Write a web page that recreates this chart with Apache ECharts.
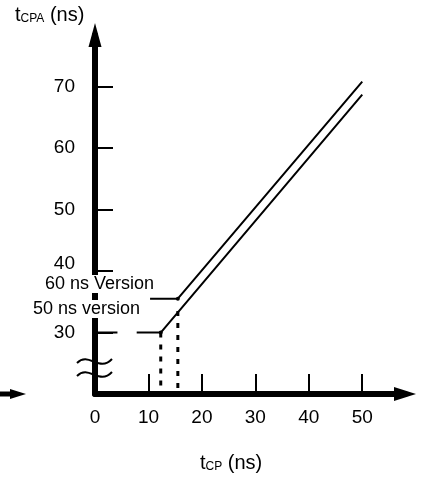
<!DOCTYPE html>
<html>
<head>
<meta charset="utf-8">
<script src="https://cdn.jsdelivr.net/npm/echarts@6.0.0/dist/echarts.min.js"></script>
<style>
  html, body { margin: 0; padding: 0; background: #fff; }
  #chart { width: 421px; height: 480px; }
</style>
</head>
<body>
<div id="chart"></div>
<script>
// tCP (ns) against tCPA (ns)
const tcp50 = [0, 4.2, 6, 7.8, 12.3, 50];
const tcpa50 = [30, 30, '-', 30, 30, 68.7];
const knee50 = 12.3;
const tcp60 = [10.3, 15.5, 50];
const tcpa60 = [35.5, 35.5, 70.8];
const knee60 = 15.5;
// dotted drops from the knees to the x axis
const drop50 = [[12.3, 30], [12.3, 20]];
const drop60 = [[15.5, 33.5], [15.5, 20]];

const xLabels = [0, 10, 20, 30, 40, 50];
const xTicks = [10, 20, 30, 40, 50];
const yTicks = [30, 40, 50, 60, 70];
const versionNames = ['60 ns Version', '50 ns version'];

const font = 'Liberation Sans, Arial, sans-serif';

function pairs(xs, ys, knee) {
  return xs.map((x, i) => {
    if (x === knee) {
      return { value: [x, ys[i]], symbol: 'circle', symbolSize: 4, itemStyle: { color: '#000' } };
    }
    return [x, ys[i]];
  });
}

function nameTitle(sub, left, top) {
  return {
    text: '{t|t}{s|' + sub + '}{t| (ns)}',
    left: left,
    top: top,
    padding: 0,
    textStyle: {
      fontWeight: 'normal',
      rich: {
        t: { fontFamily: font, fontSize: 20, fontWeight: 'normal', lineHeight: 20, color: '#000', verticalAlign: 'bottom' },
        s: { fontFamily: font, fontSize: 12, fontWeight: 'normal', lineHeight: 14, color: '#000', verticalAlign: 'bottom' }
      }
    }
  };
}

function versionTitle(text, left, top) {
  return {
    text: text,
    left: left,
    top: top,
    padding: [0, 2],
    backgroundColor: '#fff',
    textStyle: { fontFamily: font, fontSize: 18, fontWeight: 'normal', color: '#000', lineHeight: 18 }
  };
}

const lineOf = (data) => ({
  type: 'line',
  data: data,
  symbol: 'none',
  silent: true,
  z: 3,
  lineStyle: { color: '#000', width: 2 }
});

const dropOf = (data) => ({
  type: 'line',
  data: data,
  symbol: 'none',
  silent: true,
  z: 3,
  lineStyle: { color: '#000', width: 3, type: [5, 7] }
});

const chart = echarts.init(document.getElementById('chart'));

chart.setOption({
  animation: false,
  backgroundColor: '#fff',
  title: [
    nameTitle('CPA', 15, 5),
    nameTitle('CP', 200, 453),
    versionTitle(versionNames[0], 43, 275),
    versionTitle(versionNames[1], 31, 300)
  ],
  grid: { left: 95, right: 16, top: 35, bottom: 86 },
  xAxis: {
    type: 'value',
    min: 0,
    max: 58,
    splitLine: { show: false },
    axisLine: {
      onZero: false,
      lineStyle: { color: '#000', width: 6 },
      symbol: ['none', 'triangle'],
      symbolSize: [14, 22]
    },
    axisTick: { inside: true, length: 20, customValues: xTicks, lineStyle: { color: '#000', width: 2 } },
    axisLabel: { customValues: xLabels, margin: 14, fontFamily: font, fontSize: 19, color: '#000' }
  },
  yAxis: {
    type: 'value',
    min: 20,
    max: 78.4,
    splitLine: { show: false },
    axisLine: {
      onZero: false,
      lineStyle: { color: '#000', width: 6 },
      symbol: ['none', 'triangle'],
      symbolSize: [13, 24]
    },
    axisTick: { inside: true, length: 18, customValues: yTicks, lineStyle: { color: '#000', width: 2 } },
    axisLabel: {
      customValues: yTicks,
      margin: 20,
      fontFamily: font,
      fontSize: 19,
      color: '#000',
      // the 40 sits a little high in the source, clear of the version note
      formatter: (v) => (v === 40 ? '{up|40}' : String(v)),
      rich: { up: { fontFamily: font, fontSize: 19, color: '#000', padding: [0, 0, 14, 0] } }
    }
  },
  series: [
    lineOf(pairs(tcp50, tcpa50, knee50)),
    lineOf(pairs(tcp60, tcpa60, knee60)),
    dropOf(drop50),
    dropOf(drop60)
  ]
});

// break mark on the y axis and the stray arrow at the left edge
const brk = chart.convertToPixel({ gridIndex: 0 }, [0, 24.4]);
const base = chart.convertToPixel({ gridIndex: 0 }, [0, 20]);
const wave = (dy) => ({
  type: 'bezierCurve',
  z: 10,
  shape: {
    x1: brk[0] - 18, y1: brk[1] + dy + 2,
    cpx1: brk[0] - 6, cpy1: brk[1] + dy - 10,
    cpx2: brk[0] + 4, cpy2: brk[1] + dy + 12,
    x2: brk[0] + 17, y2: brk[1] + dy - 2
  },
  style: { stroke: '#000', lineWidth: 2, fill: null }
});

chart.setOption({
  graphic: [
    wave(-6),
    wave(7),
    {
      type: 'line',
      shape: { x1: 0, y1: base[1], x2: 12, y2: base[1] },
      style: { stroke: '#000', lineWidth: 5 }
    },
    {
      type: 'polygon',
      shape: { points: [[10, base[1] - 5], [26, base[1]], [10, base[1] + 5]] },
      style: { fill: '#000' }
    }
  ]
});
</script>
</body>
</html>
